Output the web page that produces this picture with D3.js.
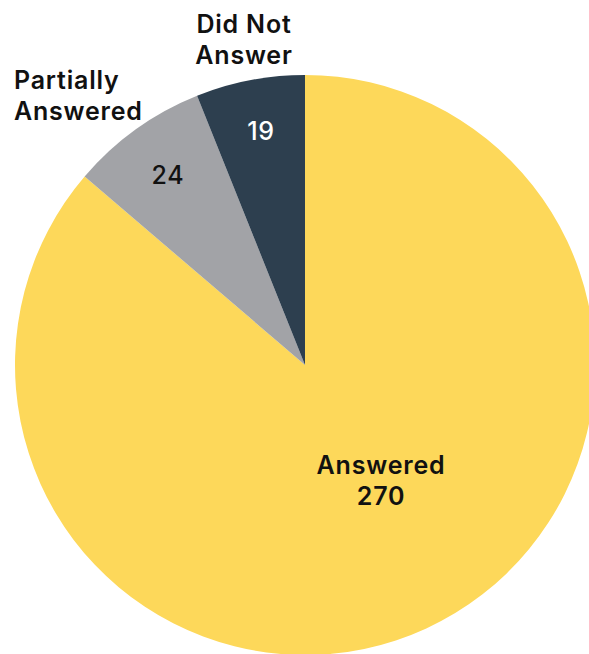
<!DOCTYPE html>
<html><head><meta charset="utf-8">
<script src="https://cdn.jsdelivr.net/npm/d3@7/dist/d3.min.js"></script>
<style>body{margin:0;background:#fff}svg{display:block}text{font-family:Inter,"Noto Sans",sans-serif}</style>
</head><body><svg id="c" width="589" height="654"></svg>
<script>
const categories = ["Answered", "Partially Answered", "Did Not Answer"];
const values = [270, 24, 19];
const colors = ["#FDD85A", "#A2A3A7", "#2D3F4F"];

const svg = d3.select("#c");
const cx = 305, cy = 365, R = 290;
const g = svg.append("g").attr("transform", `translate(${cx},${cy})`);
const data = categories.map((c, i) => ({c, v: values[i], col: colors[i]}));
const pie = d3.pie().value(d => d.v).sort(null);
const arcs = pie(data);
const arc = d3.arc().innerRadius(0).outerRadius(R);
g.selectAll("path").data(arcs).join("path").attr("d", arc).attr("fill", d => d.data.col);

function lbl(x, y, lines, anchor, fill, size, weight) {
  const t = svg.append("text").attr("x", x).attr("y", y).attr("text-anchor", anchor)
    .attr("fill", fill).attr("font-size", size).attr("font-weight", weight)
    .attr("letter-spacing", 0.8);
  lines.forEach((l, i) => t.append("tspan").attr("x", x).attr("dy", i ? 31 : 0).text(l));
}
lbl(381, 474, ["Answered", String(values[0])], "middle", "#111", 25, 600);
lbl(168, 184, [String(values[1])], "middle", "#111", 25, 500);
lbl(261, 140, [String(values[2])], "middle", "#fff", 25, 500);
lbl(14, 89, ["Partially", "Answered"], "start", "#111", 25, 600);
lbl(244, 33, ["Did Not", "Answer"], "middle", "#111", 25, 600);
</script></body></html>
